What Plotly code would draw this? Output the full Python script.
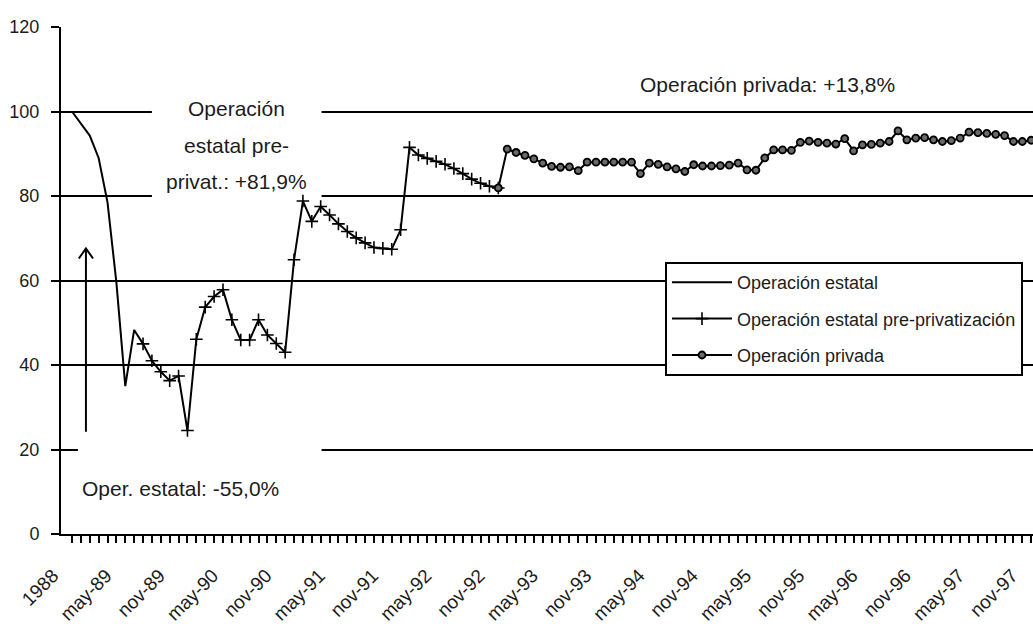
import plotly.graph_objects as go

# Month categories: base year 1988, then monthly from dic-88 to nov-97
MESES = ["ene", "feb", "mar", "abr", "may", "jun", "jul", "ago", "sep", "oct", "nov", "dic"]
categorias = ["1988"] + ["dic-88"] + [f"{m}-{a:02d}" for a in range(89, 98) for m in MESES][:107]

# Index values (1988 = 100)
estatal = [100, 97.2, 94.3, 89.0, 78.5, 59.5, 35.0, 48.3, 45.0]
pre_privat = [45.0, 41.0, 38.4, 36.3, 37.4, 24.5, 46.1, 53.7, 56.2, 57.8,
              50.7, 45.9, 45.9, 50.7, 47.1, 45.1, 43.0, 64.9, 78.8, 74.0,
              77.5, 75.5, 73.4, 71.6, 70.1, 68.9, 67.8, 67.6, 67.4, 72.0,
              91.5, 89.7, 88.9, 88.2, 87.5, 86.5, 85.3, 84.0, 83.0, 82.3,
              81.9]
privada = [81.9, 91.1, 90.3, 89.6, 88.8, 87.8, 87.0, 86.8, 86.9, 86.0,
           88.0, 88.0, 88.0, 88.0, 88.0, 88.0, 85.3, 87.8, 87.5, 86.9,
           86.4, 85.8, 87.4, 87.1, 87.1, 87.2, 87.3, 87.8, 86.2, 86.1,
           89.0, 90.9, 90.9, 90.8, 92.7, 93.0, 92.7, 92.5, 92.3, 93.6,
           90.7, 92.1, 92.2, 92.5, 92.9, 95.4, 93.3, 93.7, 93.8, 93.3,
           92.9, 93.1, 93.7, 95.1, 95.0, 94.8, 94.6, 94.3, 92.9, 92.9,
           93.2]

inicio_estatal = categorias.index("1988")
inicio_pre = categorias.index("jul-89")
inicio_privada = categorias.index("nov-92")

y_ticks = [0, 20, 40, 60, 80, 100, 120]

FONT = "Liberation Sans, Arial, sans-serif"
INK = "#1c1c1c"

x_est = list(range(inicio_estatal, inicio_estatal + len(estatal)))
x_pre = list(range(inicio_pre, inicio_pre + len(pre_privat)))
x_priv = list(range(inicio_privada, inicio_privada + len(privada)))

fig = go.Figure()
fig.add_trace(go.Scatter(
    x=x_est, y=estatal, mode="lines", name="Operación estatal",
    line=dict(color="black", width=2), legendgroup="a"))
fig.add_trace(go.Scatter(
    x=x_pre, y=pre_privat, mode="lines+markers",
    name="Operación estatal pre-privatización",
    line=dict(color="black", width=2),
    marker=dict(symbol="cross-thin", size=9, color="black",
                line=dict(width=1.6, color="black")),
    legendgroup="b"))
fig.add_trace(go.Scatter(
    x=x_priv, y=privada, mode="lines+markers", name="Operación privada",
    line=dict(color="black", width=2),
    marker=dict(symbol="circle", size=7, color="#6a6a6a",
                line=dict(width=1.8, color="black")),
    legendgroup="c", cliponaxis=False))

# White panels that break the gridlines behind the text notes
for x0, x1, y0, y1 in [(9.0, 28.1, 78.3, 104.0), (0.67, 28.1, 3.3, 22.2)]:
    fig.add_shape(type="rect", xref="x", yref="y", x0=x0, x1=x1, y0=y0, y1=y1,
                  fillcolor="white", line=dict(width=0), layer="between")

# Vertical arrow beside the first decline
ax_x, ax_y0, ax_y1 = 1.57, 24.2, 67.6
fig.add_shape(type="line", xref="x", yref="y", x0=ax_x, x1=ax_x, y0=ax_y0, y1=ax_y1,
              line=dict(color="black", width=2))
fig.add_shape(type="path", xref="x", yref="y",
              path=f"M {ax_x - 0.8} {ax_y1 - 2.4} L {ax_x} {ax_y1} L {ax_x + 0.8} {ax_y1 - 2.4}",
              line=dict(color="black", width=2))

notas = [
    ("Operación", 18.56, 100.6),
    ("estatal pre-", 18.56, 91.9),
    ("privat.: +81,9%", 18.56, 83.5),
    ("Operación privada: +13,8%", 78.3, 106.3),
    ("Oper. estatal: -55,0%", 12.26, 10.8),
]
for texto, x, y in notas:
    fig.add_annotation(x=x, y=y, xref="x", yref="y", text=texto, showarrow=False,
                       font=dict(family=FONT, size=21, color=INK),
                       xanchor="center", yanchor="middle")

tick_vals = list(range(len(categorias)))
tick_text = [c if i % 6 == 0 else "" for i, c in enumerate(categorias)]

fig.update_layout(
    width=1033, height=626,
    margin=dict(l=61, r=0, t=27, b=92),
    paper_bgcolor="white", plot_bgcolor="white",
    font=dict(family=FONT, size=18, color=INK),
    showlegend=True,
    legend=dict(x=0.6214, y=0.5365, xanchor="left", yanchor="top",
                bgcolor="white", bordercolor="black", borderwidth=2,
                font=dict(family=FONT, size=18, color=INK),
                tracegroupgap=10, entrywidth=296,
                itemwidth=60),
    xaxis=dict(range=[-1.237, 108.2], tickmode="array", tickvals=tick_vals,
               ticktext=tick_text, tickangle=-45, ticks="outside", ticklen=7,
               tickwidth=1.5, tickcolor="black", showgrid=False, zeroline=False,
               showline=True, linecolor="black", linewidth=2,
               ticklabelshift=-19, ticklabelstandoff=14,
               ticklabeloverflow="allow",
               tickfont=dict(family=FONT, size=19, color=INK)),
    yaxis=dict(range=[0, 120], tickmode="array", tickvals=y_ticks,
               ticks="outside", ticklen=8, tickwidth=2, tickcolor="black",
               showgrid=True, gridcolor="black", gridwidth=2, zeroline=False,
               showline=True, linecolor="black", linewidth=2,
               ticklabelstandoff=8,
               tickfont=dict(family=FONT, size=18, color=INK)),
)

fig.write_html("out.html")
